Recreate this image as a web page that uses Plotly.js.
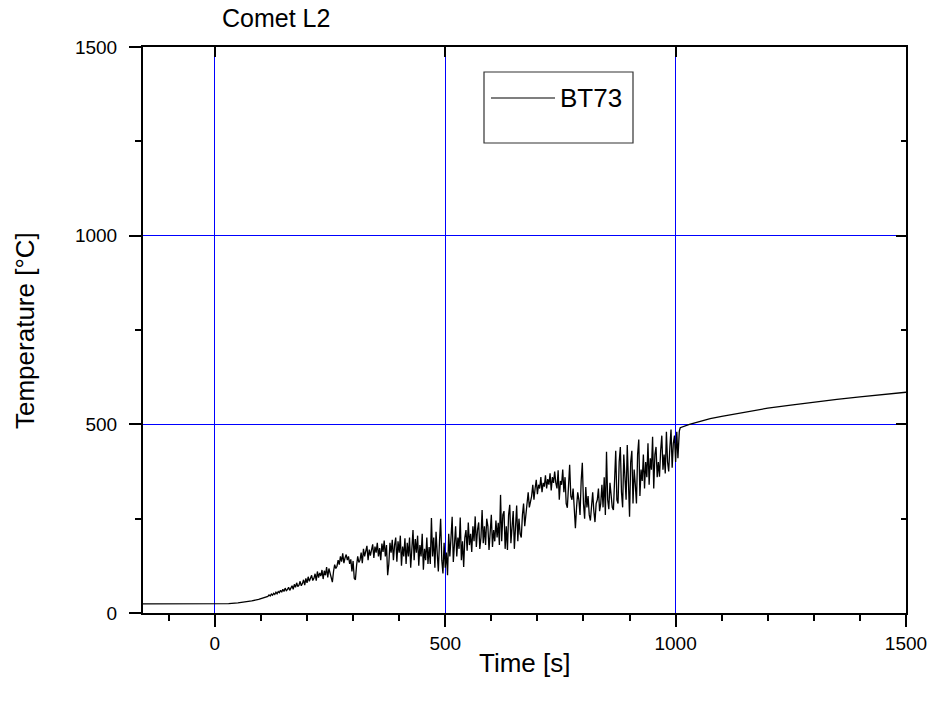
<!DOCTYPE html>
<html>
<head>
<meta charset="utf-8">
<script src="https://cdn.plot.ly/plotly-3.0.1.min.js"></script>
<style>html,body{margin:0;padding:0;background:#fff;}#chart{width:935px;height:705px;}</style>
</head>
<body>
<div id="chart"></div>
<script>
// ---- data ----
const timeStart = [-156, -100, -50, 0, 30, 50, 65, 80, 95, 110];
const tempStart = [24, 24, 24, 24, 25, 27, 29, 32, 36, 41];

const timeNoisy = [
115,117.5,120,122.5,125,127.5,130,132.5,135,137.5,
140,142.5,145,147.5,150,152.5,155,157.5,160,162.5,
165,167.5,170,172.5,175,177.5,180,182.5,185,187.5,
190,192.5,195,197.5,200,202.5,205,207.5,210,212.5,
215,217.5,220,222.5,225,227.5,230,232.5,235,237.5,
240,242.5,245,247.5,250,252.5,255,257.5,260,262.5,
265,267.5,270,272.5,275,277.5,280,282.5,285,287.5,
290,292.5,295,297.5,300,302.5,305,307.5,310,312.5,
315,317.5,320,322.5,325,327.5,330,332.5,335,337.5,
340,342.5,345,347.5,350,352.5,355,357.5,360,362.5,
365,367.5,370,372.5,375,377.5,380,382.5,385,387.5,
390,392.5,395,397.5,400,402.5,405,407.5,410,412.5,
415,417.5,420,422.5,425,427.5,430,432.5,435,437.5,
440,442.5,445,447.5,450,452.5,455,457.5,460,462.5,
465,467.5,470,472.5,475,477.5,480,482.5,485,487.5,
490,492.5,495,497.5,500,502.5,505,507.5,510,512.5,
515,517.5,520,522.5,525,527.5,530,532.5,535,537.5,
540,542.5,545,547.5,550,552.5,555,557.5,560,562.5,
565,567.5,570,572.5,575,577.5,580,582.5,585,587.5,
590,592.5,595,597.5,600,602.5,605,607.5,610,612.5,
615,617.5,620,622.5,625,627.5,630,632.5,635,637.5,
640,642.5,645,647.5,650,652.5,655,657.5,660,662.5,
665,667.5,670,672.5,675,677.5,680,682.5,685,687.5,
690,692.5,695,697.5,700,702.5,705,707.5,710,712.5,
715,717.5,720,722.5,725,727.5,730,732.5,735,737.5,
740,742.5,745,747.5,750,752.5,755,757.5,760,762.5,
765,767.5,770,772.5,775,777.5,780,782.5,785,787.5,
790,792.5,795,797.5,800,802.5,805,807.5,810,812.5,
815,817.5,820,822.5,825,827.5,830,832.5,835,837.5,
840,842.5,845,847.5,850,852.5,855,857.5,860,862.5,
865,867.5,870,872.5,875,877.5,880,882.5,885,887.5,
890,892.5,895,897.5,900,902.5,905,907.5,910,912.5,
915,917.5,920,922.5,925,927.5,930,932.5,935,937.5,
940,942.5,945,947.5,950,952.5,955,957.5,960,962.5,
965,967.5,970,972.5,975,977.5,980,982.5,985,987.5,
990,992.5,995,997.5,1000,1002.5,1005];
const tempNoisy = [
44,48,45,50,47,52,49,55,51,57,
54,60,55,63,57,66,59,62,68,60,
65,72,63,76,68,80,70,74,84,72,
78,88,74,92,80,96,84,90,100,86,
92,104,86,110,94,106,98,114,90,112,
100,122,94,118,106,96,82,110,128,118,
124,140,128,150,136,158,132,146,155,140,
150,130,142,110,138,92,88,126,150,134,
140,160,132,170,150,164,178,140,168,152,
170,182,146,176,160,186,150,172,140,184,
162,192,150,180,100,130,186,160,194,140,
180,200,136,190,160,205,125,176,150,198,
130,186,150,200,120,172,220,140,196,160,
205,125,180,150,210,115,170,140,200,130,
175,130,252,150,200,120,215,160,110,190,
250,140,105,186,120,160,100,210,150,200,
255,135,180,230,150,200,170,253,140,190,
122,200,220,165,240,180,210,162,230,190,
256,175,220,240,170,200,273,185,230,180,
250,230,167,210,260,175,220,190,245,200,
239,180,313,190,260,270,170,230,167,260,
287,185,240,270,170,230,285,190,250,210,
200,260,290,230,260,300,320,280,295,310,
340,300,330,353,315,340,330,360,320,345,
335,365,330,355,340,370,325,360,345,375,
345,330,378,300,350,340,380,320,360,290,
279,340,393,310,300,330,260,225,280,320,
300,260,350,398,290,250,334,280,310,260,
245,300,320,270,241,290,300,330,270,290,
340,280,360,260,427,300,275,345,310,280,
273,380,430,300,290,400,440,320,280,420,
350,300,445,330,255,400,430,290,380,340,
290,420,460,310,380,350,420,330,400,360,
450,340,410,380,467,330,420,440,360,400,
361,430,470,380,420,370,480,400,375,440,
486,385,450,470,400,480,410];

const timeTail = [1008, 1010, 1030, 1052, 1075, 1100, 1150, 1200, 1250, 1300, 1350, 1400, 1450, 1500];
const tempTail = [482, 491, 500, 508, 515, 521, 533, 543, 551, 559, 566, 573, 579, 585];

const seriesName = 'BT73';
const chartTitle = 'Comet L2';
const xTitle = 'Time [s]';
const yTitle = 'Temperature [°C]';
const xRange = [-156, 1500];
const yRange = [0, 1500];

// ---- build ----
const t = timeStart.concat(timeNoisy, timeTail);
const T = tempStart.concat(tempNoisy, tempTail);

const FONT = 'Liberation Sans, Arial, sans-serif';
const PL = 143, PT = 47, PW = 763, PH = 566;
const px2x = p => (p - PL) / PW;
const py2y = p => (PT + PH - p) / PH;

const trace = {
  x: t, y: T, type: 'scatter', mode: 'lines', name: seriesName,
  line: {color: '#000000', width: 1.3}, showlegend: false
};
const dummy2 = {x: [], y: [], xaxis: 'x2', yaxis: 'y2', type: 'scatter', showlegend: false};

const layout = {
  width: 935, height: 705,
  margin: {l: 143, r: 29, t: 47, b: 92, pad: 0},
  paper_bgcolor: '#ffffff', plot_bgcolor: '#ffffff',
  font: {family: FONT, color: '#000000', size: 19},
  showlegend: false,
  title: {text: chartTitle, font: {family: FONT, size: 25, color: '#000'},
          xref: 'paper', x: px2x(222), xanchor: 'left', yref: 'container', y: 1 - 18/705, yanchor: 'middle'},
  xaxis: {
    range: xRange, tickmode: 'linear', tick0: 0, dtick: 500,
    ticks: 'outside', ticklen: 12, tickwidth: 2, tickcolor: '#000',
    showline: true, linecolor: '#000', linewidth: 2,
    showgrid: true, gridcolor: '#0000ff', gridwidth: 1, zeroline: false,
    minor: {dtick: 100, tick0: 0, ticks: 'outside', ticklen: 6, tickwidth: 2, tickcolor: '#000', showgrid: false},
    tickfont: {family: FONT, size: 19},
    layer: 'above traces'
  },
  xaxis2: {
    range: xRange, overlaying: 'x', side: 'top', anchor: 'y',
    tickmode: 'linear', tick0: 0, dtick: 500,
    ticks: 'inside', ticklen: 10, tickwidth: 2, tickcolor: '#000',
    showline: true, linecolor: '#000', linewidth: 2,
    showgrid: false, zeroline: false, showticklabels: false
  },
  yaxis: {
    range: yRange, tickmode: 'linear', tick0: 0, dtick: 500,
    ticks: 'outside', ticklen: 12, tickwidth: 2, tickcolor: '#000',
    showline: true, linecolor: '#000', linewidth: 2,
    showgrid: true, gridcolor: '#0000ff', gridwidth: 1, zeroline: false,
    minor: {dtick: 250, tick0: 0, ticks: 'outside', ticklen: 6, tickwidth: 2, tickcolor: '#000', showgrid: false},
    tickfont: {family: FONT, size: 19},
    ticklabelstandoff: 8,
    layer: 'above traces'
  },
  yaxis2: {
    range: yRange, overlaying: 'y', side: 'right', anchor: 'x',
    tickmode: 'linear', tick0: 0, dtick: 500,
    ticks: 'inside', ticklen: 10, tickwidth: 2, tickcolor: '#000',
    minor: {dtick: 250, tick0: 0, ticks: 'inside', ticklen: 5, tickwidth: 2, tickcolor: '#000', showgrid: false},
    showline: true, linecolor: '#000', linewidth: 2,
    showgrid: false, zeroline: false, showticklabels: false
  },
  shapes: [
    {type: 'rect', xref: 'paper', yref: 'paper',
     x0: px2x(484), x1: px2x(633), y0: py2y(143), y1: py2y(72),
     line: {color: '#333', width: 1.2}, fillcolor: '#ffffff', layer: 'above'},
    {type: 'line', xref: 'paper', yref: 'paper',
     x0: px2x(491), x1: px2x(555), y0: py2y(98), y1: py2y(98),
     line: {color: '#000', width: 1.2}, layer: 'above'}
  ],
  annotations: [
    {text: seriesName, xref: 'paper', yref: 'paper', x: px2x(558), y: py2y(98),
     xanchor: 'left', yanchor: 'middle', showarrow: false, font: {family: FONT, size: 26, color: '#000'}},
    {text: xTitle, xref: 'paper', yref: 'paper', x: 0.5, y: py2y(663),
     xanchor: 'center', yanchor: 'middle', showarrow: false, font: {family: FONT, size: 26, color: '#000'}},
    {text: yTitle, xref: 'paper', yref: 'paper', x: px2x(25), y: 0.5, textangle: -90,
     xanchor: 'center', yanchor: 'middle', showarrow: false, font: {family: FONT, size: 26, color: '#000'}}
  ]
};

Plotly.newPlot('chart', [trace, dummy2], layout, {displayModeBar: false, staticPlot: true});
</script>
</body>
</html>
